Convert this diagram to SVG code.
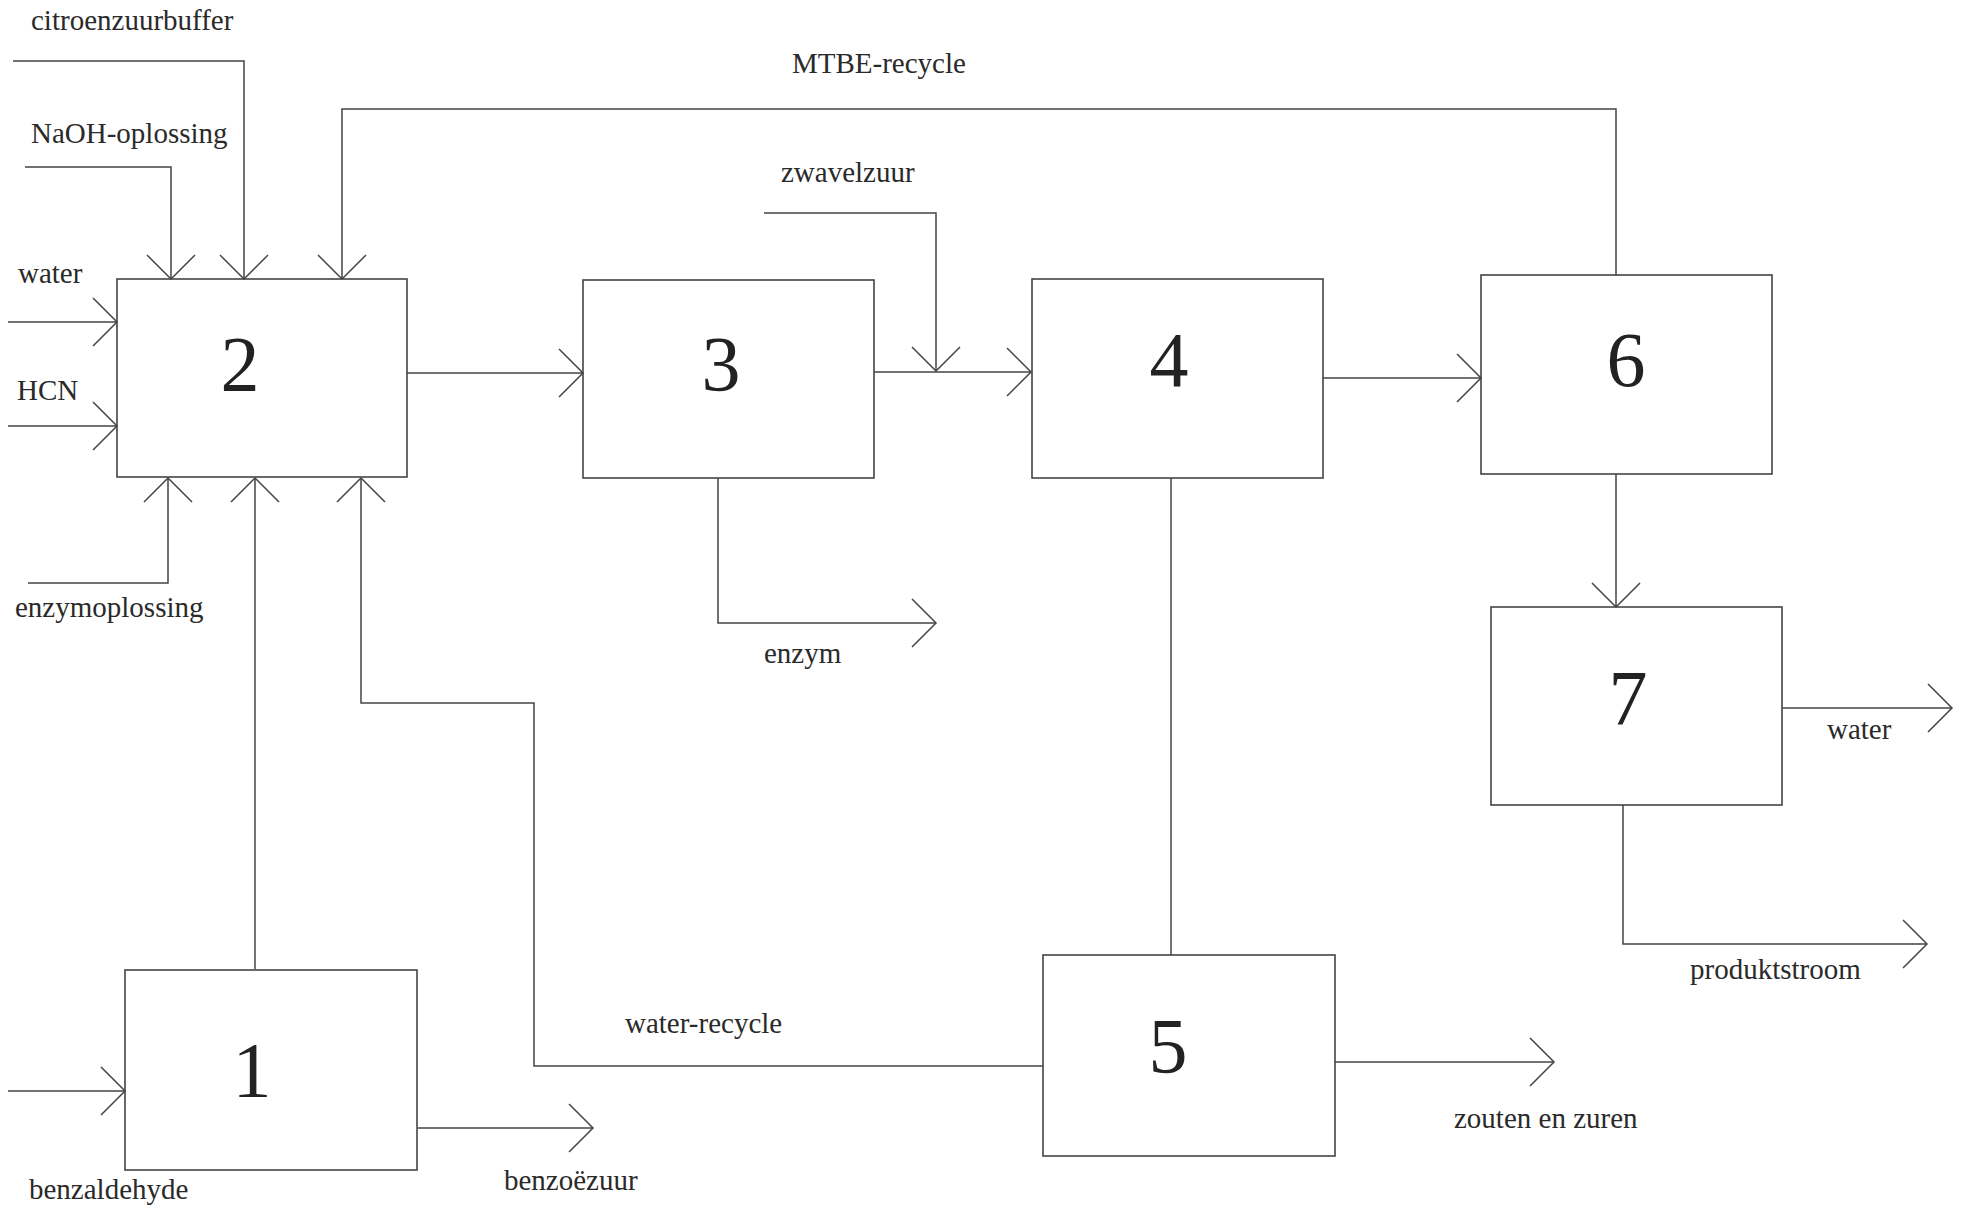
<svg xmlns="http://www.w3.org/2000/svg" width="1961" height="1208" viewBox="0 0 1961 1208">
<style>
.box{fill:none;stroke:#444;stroke-width:1.6}
.ln{fill:none;stroke:#444;stroke-width:1.5}
.lbl{font-family:"Liberation Serif","Times New Roman",serif;font-size:29px;fill:#2a2a2a}
.num{font-family:"Liberation Serif","Times New Roman",serif;font-size:78px;fill:#222;text-anchor:middle}
</style>
<defs>
<marker id="arr" markerUnits="userSpaceOnUse" markerWidth="60" markerHeight="60" viewBox="-30 -30 60 60" refX="0" refY="0" orient="auto" overflow="visible">
<path d="M-24,-24 L0,0 L-24,24" fill="none" stroke="#444" stroke-width="1.5"/>
</marker>
</defs>
<rect width="1961" height="1208" fill="#fff"/>
<g id="connectors">
<path class="ln" d="M13,61 H244 V279" marker-end="url(#arr)"/>
<path class="ln" d="M25,167 H171 V279" marker-end="url(#arr)"/>
<path class="ln" d="M1616,275 V109 H342 V279" marker-end="url(#arr)"/>
<path class="ln" d="M8,322 H117" marker-end="url(#arr)"/>
<path class="ln" d="M8,426 H117" marker-end="url(#arr)"/>
<path class="ln" d="M28,583 H168 V478" marker-end="url(#arr)"/>
<path class="ln" d="M255,969 V478" marker-end="url(#arr)"/>
<path class="ln" d="M1043,1066 H534 V703 H361 V478" marker-end="url(#arr)"/>
<path class="ln" d="M8,1091 H125" marker-end="url(#arr)"/>
<path class="ln" d="M418,1128 H593" marker-end="url(#arr)"/>
<path class="ln" d="M407,373 H583" marker-end="url(#arr)"/>
<path class="ln" d="M718,478 V623 H936" marker-end="url(#arr)"/>
<path class="ln" d="M764,213 H936 V371" marker-end="url(#arr)"/>
<path class="ln" d="M874,372 H1031" marker-end="url(#arr)"/>
<path class="ln" d="M1171,478 V955"/>
<path class="ln" d="M1323,378 H1481" marker-end="url(#arr)"/>
<path class="ln" d="M1335,1062 H1554" marker-end="url(#arr)"/>
<path class="ln" d="M1616,474 V607" marker-end="url(#arr)"/>
<path class="ln" d="M1782,708 H1952" marker-end="url(#arr)"/>
<path class="ln" d="M1623,805 V944 H1927" marker-end="url(#arr)"/>
</g>
<g id="node1"><rect class="box" x="125" y="970" width="292" height="200"/><text class="num" x="252" y="1096">1</text></g>
<g id="node2"><rect class="box" x="117" y="279" width="290" height="198"/><text class="num" x="240" y="390">2</text></g>
<g id="node3"><rect class="box" x="583" y="280" width="291" height="198"/><text class="num" x="721" y="390">3</text></g>
<g id="node4"><rect class="box" x="1032" y="279" width="291" height="199"/><text class="num" x="1169" y="386">4</text></g>
<g id="node5"><rect class="box" x="1043" y="955" width="292" height="201"/><text class="num" x="1168" y="1072">5</text></g>
<g id="node6"><rect class="box" x="1481" y="275" width="291" height="199"/><text class="num" x="1626" y="386">6</text></g>
<g id="node7"><rect class="box" x="1491" y="607" width="291" height="198"/><text class="num" x="1628" y="724">7</text></g>
<g id="labels">
<text class="lbl" x="31" y="30">citroenzuurbuffer</text>
<text class="lbl" x="31" y="143">NaOH-oplossing</text>
<text class="lbl" x="18" y="283">water</text>
<text class="lbl" x="17" y="400">HCN</text>
<text class="lbl" x="15" y="617">enzymoplossing</text>
<text class="lbl" x="792" y="73">MTBE-recycle</text>
<text class="lbl" x="781" y="182">zwavelzuur</text>
<text class="lbl" x="764" y="663">enzym</text>
<text class="lbl" x="625" y="1033">water-recycle</text>
<text class="lbl" x="29" y="1199">benzaldehyde</text>
<text class="lbl" x="504" y="1190">benzoëzuur</text>
<text class="lbl" x="1454" y="1128">zouten en zuren</text>
<text class="lbl" x="1827" y="739">water</text>
<text class="lbl" x="1690" y="979">produktstroom</text>
</g>
</svg>
